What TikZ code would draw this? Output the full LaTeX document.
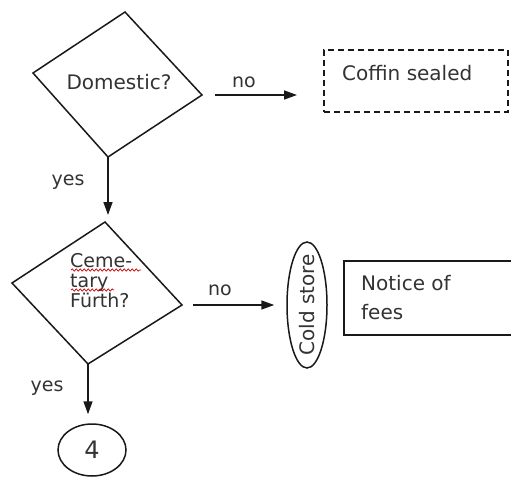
\documentclass[tikz,border=0pt]{standalone}
\usepackage{fontspec}
\setmainfont{DejaVu Sans}
\usetikzlibrary{arrows.meta,shapes.geometric,decorations.pathmorphing}
\begin{document}
\begin{tikzpicture}[x=1pt,y=-1pt,
  every node/.style={font=\fontsize{20}{20}\selectfont, text=black!80, inner sep=0pt},
  shape line/.style={draw=black!90, line width=1.5pt},
  flow/.style={draw=black!90, line width=1.5pt, -{Triangle[length=13pt,width=9pt]}},
  lbl/.style={font=\fontsize{19}{19}\selectfont},
  spell/.style={draw=red!80!black, line width=0.7pt, decorate,
    decoration={snake, amplitude=1.1pt, segment length=4pt}}]
\useasboundingbox (0,0) rectangle (511,479);
\fill[white] (0,0) rectangle (511,479);
\clip (0,0) rectangle (511,479);

% diamond 1
\coordinate (d1t) at (125,12);
\coordinate (d1r) at (202,95);
\coordinate (d1b) at (108,157);
\coordinate (d1l) at (33,73);
\draw[shape line, line join=miter] (d1t) -- (d1r) -- (d1b) -- (d1l) -- cycle;
\node (dom) at (119,82) {Domestic?};

% coffin sealed
\node[draw=black!90, line width=1.5pt, dash pattern=on 6pt off 4pt,
  minimum width=184pt, minimum height=62pt, anchor=north west] (coffin) at (323,49) {};
\node[anchor=west] (coffintxt) at (342,73) {Coffin sealed};

\draw[flow, shorten <=13pt, shorten >=26pt] (d1r) -- (d1r -| coffin.west);
\node[lbl] (no1) at (244,82) {no};

% diamond 2
\coordinate (d2t) at (105,222);
\coordinate (d2r) at (182,305);
\coordinate (d2b) at (88,364);
\coordinate (d2l) at (12,283);
\draw[shape line, line join=miter] (d2t) -- (d2r) -- (d2b) -- (d2l) -- cycle;
\node[anchor=north west, align=left, font=\fontsize{19}{20}\selectfont] (cem) at (70,253) {Ceme-\\tary\\Fürth?};
\draw[spell] (71,270) -- (141,270);
\draw[spell] (71,290) -- (114,290);

\draw[flow, shorten >=7pt] (d1b) -- (d1b |- d2t);
\node[lbl] (yes1) at (68,182) {yes};

% cold store
\node[draw=black!90, line width=1.5pt, ellipse, minimum width=40pt, minimum height=126pt] (cold) at (307,305) {};
\node[rotate=90] (coldtxt) at (307,305) {Cold store};

\draw[flow, shorten <=11pt, shorten >=12pt] (d2r) -- (d2r -| cold.west);
\node[lbl] (no2) at (220,290) {no};

% notice of fees
\node[draw=black!90, line width=1.5pt, minimum width=200pt, minimum height=74pt, anchor=north west] (notice) at (343,260) {};
\node[anchor=west] (n1) at (361,283) {Notice of};
\node[anchor=west] (n2) at (361,312) {fees};

% end circle 4
\node[draw=black!90, line width=1.5pt, ellipse, minimum width=68pt, minimum height=52pt, font=\fontsize{24}{24}\selectfont] (four) at (92,450) {4};
\draw[flow, shorten >=9pt] (d2b) -- (d2b |- four.north);
\node[lbl] (yes2) at (47,388) {yes};
\end{tikzpicture}
\end{document}
